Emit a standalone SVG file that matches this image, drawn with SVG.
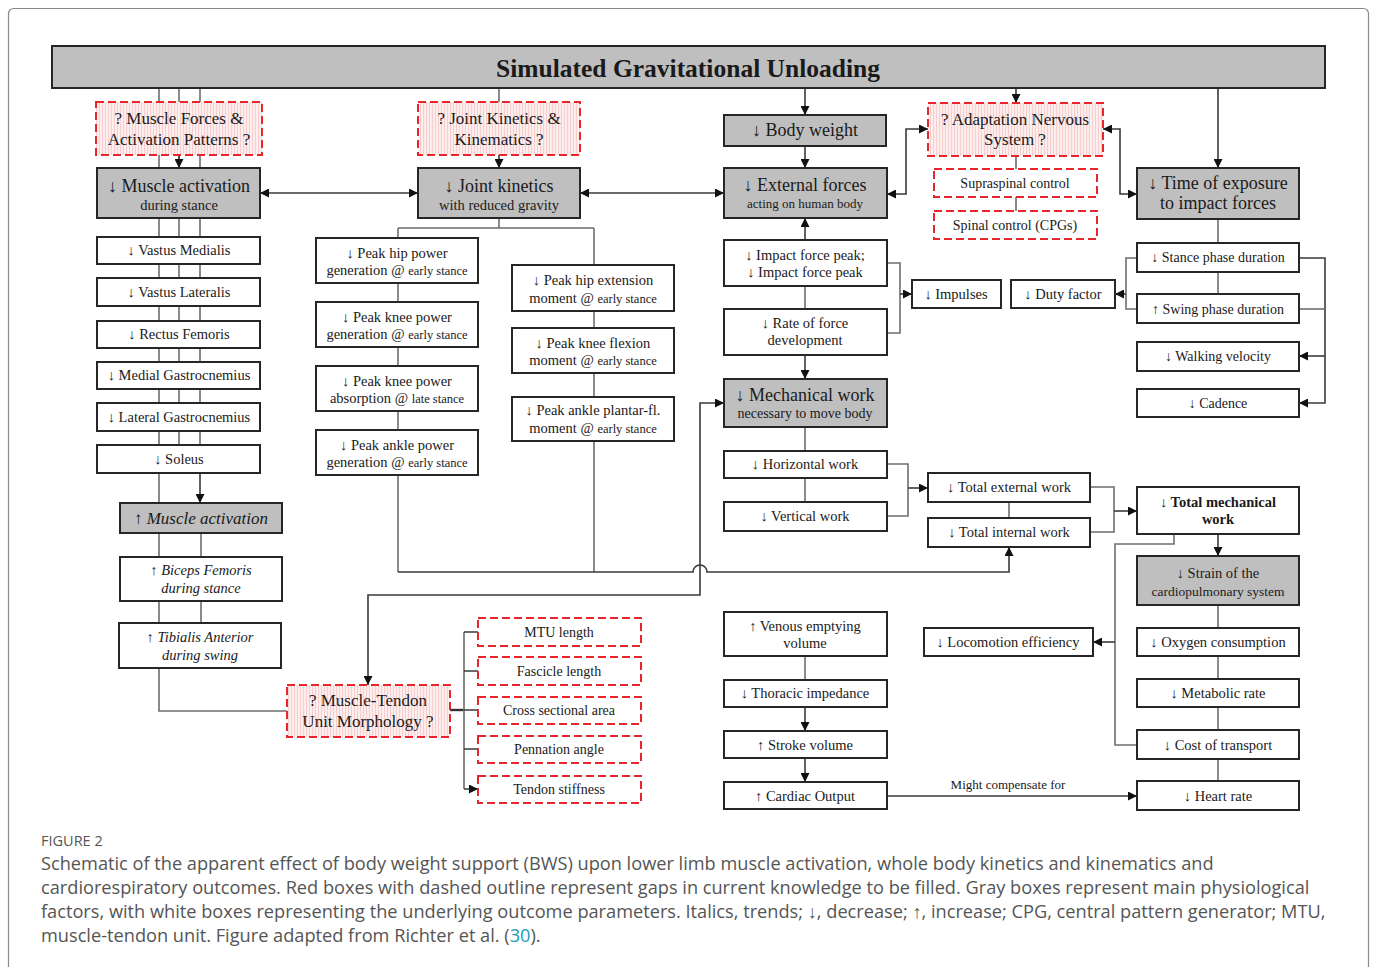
<svg xmlns="http://www.w3.org/2000/svg" width="1375" height="967" viewBox="0 0 1375 967">
<style>
  .frame{fill:#fff;stroke:#8a8a8a;stroke-width:1.2}
  .g{fill:#bfbfbf;stroke:#262626;stroke-width:2}
  .w{fill:#fff;stroke:#262626;stroke-width:2}
  .r{fill:url(#hatch);stroke:#e6262b;stroke-width:2;stroke-dasharray:8 4}
  .rw{fill:#fff;stroke:#e6262b;stroke-width:2;stroke-dasharray:8 4}
  .c{fill:none;stroke:#6e6e6e;stroke-width:1.6}
  .ca{fill:none;stroke:#3a3a3a;stroke-width:1.6;marker-end:url(#ah)}
  .cd{fill:none;stroke:#3a3a3a;stroke-width:1.6;marker-end:url(#ah);marker-start:url(#ah)}
  text{font-family:"Liberation Serif","Times New Roman",serif;fill:#1a1a1a;text-anchor:middle}
  .t15{font-size:14.5px}
  .t17{font-size:17px}
  .t18{font-size:18px}
  .s{font-size:12.5px}
  .it{font-style:italic}
  .b{font-weight:bold}
  .cap{font-family:"Open Sans","Liberation Sans",sans-serif;text-anchor:start;fill:#555;font-size:18.2px}
</style>
<defs>
  <pattern id="hatch" width="3" height="3" patternUnits="userSpaceOnUse">
    <rect width="3" height="3" fill="#fdeeee"/>
    <rect width="1" height="3" fill="#f7cdcd"/>
  </pattern>
  <marker id="ah" viewBox="0 0 10 10" refX="10" refY="5" markerWidth="9" markerHeight="9" markerUnits="userSpaceOnUse" orient="auto-start-reverse">
    <path d="M0,0 L10,5 L0,10 z" fill="#111"/>
  </marker>
</defs>

<rect class="frame" x="8.5" y="8.5" width="1360" height="990" rx="5"/>

<g id="connectors">
  <path class="c" d="M159 88 V711 H287"/>
  <path class="c" d="M179 88 V473"/>
  <path class="c" d="M200 88 V473"/>
  <path class="ca" d="M179 155 V168"/>
  <path class="ca" d="M200 473 V503"/>
  <path class="c" d="M201 533 V623"/>
  <path class="c" d="M499 88 V102"/>
  <path class="ca" d="M499 155 V168"/>
  <path class="cd" d="M260 193 H418"/>
  <path class="cd" d="M580 193 H724"/>
  <path class="c" d="M499 218 V228 M398 228 H594 M398 228 V572 M594 228 V572"/>
  <path class="ca" d="M398 572 H693 A7 7 0 0 1 707 572 H1009 V547"/>
  <path class="cd" d="M368 685 V595 H700 V403 H724"/>
  <path class="ca" d="M805 88 V115"/>
  <path class="ca" d="M805 146 V168"/>
  <path class="ca" d="M805 240 V218"/>
  <path class="c" d="M805 286 V309"/>
  <path class="ca" d="M805 355 V379"/>
  <path class="c" d="M805 427 V451 M805 478 V502"/>
  <path class="c" d="M887 263 H900 V333 H887"/>
  <path class="ca" d="M900 294 H912"/>
  <path class="c" d="M887 464 H908 V516 H887"/>
  <path class="ca" d="M908 488 H928"/>
  <path class="c" d="M1009 502 V518"/>
  <path class="c" d="M1091 487 H1114 V532 H1091"/>
  <path class="ca" d="M1114 511 H1137"/>
  <path class="cd" d="M887 194 H906 V129 H928"/>
  <path class="cd" d="M1103 129 H1120 V194 H1137"/>
  <path class="ca" d="M1016 88 V103"/>
  <path class="c" d="M1016 156 V169 M1016 197 V211"/>
  <path class="ca" d="M1218 88 V168"/>
  <path class="c" d="M1218 219 V243 M1218 272 V294"/>
  <path class="c" d="M1137 258 H1126 V309 H1137"/>
  <path class="ca" d="M1126 294 H1115"/>
  <path class="ca" d="M1299 258 H1325 V403 H1299"/>
  <path class="c" d="M1299 309 H1325"/>
  <path class="ca" d="M1325 356 H1299"/>
  <path class="ca" d="M1218 534 V556"/>
  <path class="c" d="M1218 605 V628 M1218 656 V679 M1218 707 V730 M1218 759 V781"/>
  <path class="c" d="M1174 534 V544 H1115 V745 H1137"/>
  <path class="ca" d="M1115 642 H1093"/>
  <path class="c" d="M805 656 V680"/>
  <path class="ca" d="M805 707 V731"/>
  <path class="ca" d="M805 758 V782"/>
  <path class="ca" d="M887 796 H1137"/>
  <text x="1008" y="789" style="font-size:13px">Might  compensate for</text>
  <path class="c" d="M450 710 H464" style="stroke-width:2.4;stroke:#333"/>
  <path class="c" d="M464 632 V789"/>
  <path class="ca" d="M464 632 H478 M464 671 H478 M464 710 H478 M464 749 H478 M464 789 H478"/>
</g>

<g id="n-title"><rect class="g" x="52" y="46" width="1273" height="42"/><text class="b" x="688" y="77" style="font-size:25.5px">Simulated Gravitational Unloading</text></g>

<g id="n-muscle-forces"><rect class="r" x="96" y="102" width="166" height="53"/><text class="t17" x="179" y="124">? Muscle Forces &amp;</text><text class="t17" x="179" y="145">Activation Patterns ?</text></g>
<g id="n-muscle-act"><rect class="g" x="97" y="168" width="163" height="50"/><text class="t18" x="179" y="192">↓ Muscle activation</text><text style="font-size:14.5px" x="179" y="210">during stance</text></g>
<g id="n-vm"><rect class="w" x="97" y="237" width="163" height="27"/><text class="t15" x="179" y="255">↓ Vastus Medialis</text></g>
<g id="n-vl"><rect class="w" x="97" y="278" width="163" height="28"/><text class="t15" x="179" y="297">↓ Vastus Lateralis</text></g>
<g id="n-rf"><rect class="w" x="97" y="321" width="163" height="27"/><text class="t15" x="179" y="339">↓ Rectus Femoris</text></g>
<g id="n-mg"><rect class="w" x="97" y="362" width="163" height="27"/><text class="t15" x="179" y="380">↓ Medial Gastrocnemius</text></g>
<g id="n-lg"><rect class="w" x="97" y="403" width="163" height="28"/><text class="t15" x="179" y="422">↓ Lateral Gastrocnemius</text></g>
<g id="n-sol"><rect class="w" x="97" y="445" width="163" height="28"/><text class="t15" x="179" y="464">↓ Soleus</text></g>
<g id="n-muscle-up"><rect class="g" x="120" y="503" width="162" height="30"/><text class="t17 it" x="201" y="524">↑ Muscle activation</text></g>
<g id="n-bf"><rect class="w" x="120" y="557" width="162" height="44"/><text class="t15 it" x="201" y="575">↑ Biceps Femoris</text><text class="t15 it" x="201" y="593">during stance</text></g>
<g id="n-ta"><rect class="w" x="119" y="623" width="162" height="45"/><text class="t15 it" x="200" y="642">↑ Tibialis Anterior</text><text class="t15 it" x="200" y="660">during swing</text></g>

<g id="n-joint-q"><rect class="r" x="418" y="102" width="162" height="53"/><text class="t17" x="499" y="124">? Joint Kinetics &amp;</text><text class="t17" x="499" y="145">Kinematics ?</text></g>
<g id="n-joint"><rect class="g" x="418" y="168" width="162" height="50"/><text class="t18" x="499" y="192">↓ Joint kinetics</text><text style="font-size:14.5px" x="499" y="210">with reduced gravity</text></g>
<g id="n-hip-pow"><rect class="w" x="316" y="238" width="162" height="45"/><text class="t15" x="397" y="258">↓ Peak hip power</text><text class="t15" x="397" y="275">generation @ <tspan class="s">early  stance</tspan></text></g>
<g id="n-knee-pow"><rect class="w" x="316" y="302" width="162" height="45"/><text class="t15" x="397" y="322">↓ Peak knee power</text><text class="t15" x="397" y="339">generation @ <tspan class="s">early  stance</tspan></text></g>
<g id="n-knee-abs"><rect class="w" x="316" y="366" width="162" height="45"/><text class="t15" x="397" y="386">↓ Peak knee power</text><text class="t15" x="397" y="403">absorption @ <tspan class="s">late  stance</tspan></text></g>
<g id="n-ankle-pow"><rect class="w" x="316" y="430" width="162" height="45"/><text class="t15" x="397" y="450">↓ Peak ankle power</text><text class="t15" x="397" y="467">generation @ <tspan class="s">early  stance</tspan></text></g>
<g id="n-hip-mom"><rect class="w" x="512" y="265" width="162" height="46"/><text class="t15" x="593" y="285">↓ Peak hip extension</text><text class="t15" x="593" y="303">moment @ <tspan class="s">early  stance</tspan></text></g>
<g id="n-knee-mom"><rect class="w" x="512" y="328" width="162" height="45"/><text class="t15" x="593" y="348">↓ Peak knee flexion</text><text class="t15" x="593" y="365">moment @ <tspan class="s">early  stance</tspan></text></g>
<g id="n-ankle-mom"><rect class="w" x="512" y="397" width="162" height="44"/><text class="t15" x="593" y="415">↓ Peak ankle plantar-fl.</text><text class="t15" x="593" y="433">moment @ <tspan class="s">early  stance</tspan></text></g>

<g id="n-body"><rect class="g" x="724" y="115" width="162" height="31"/><text class="t18" x="805" y="136">↓ Body weight</text></g>
<g id="n-ext"><rect class="g" x="724" y="168" width="163" height="50"/><text class="t18" x="805" y="191">↓ External forces</text><text style="font-size:13px" x="805" y="208">acting on human body</text></g>
<g id="n-impact"><rect class="w" x="724" y="240" width="163" height="46"/><text class="t15" x="805" y="260">↓ Impact  force peak;</text><text class="t15" x="805" y="277">↓ Impact  force peak</text></g>
<g id="n-rate"><rect class="w" x="724" y="309" width="163" height="46"/><text class="t15" x="805" y="328">↓ Rate of force</text><text class="t15" x="805" y="345">development</text></g>
<g id="n-mech"><rect class="g" x="724" y="379" width="163" height="48"/><text class="t18" x="805" y="401">↓ Mechanical  work</text><text style="font-size:14px" x="805" y="418">necessary  to move body</text></g>
<g id="n-horiz"><rect class="w" x="724" y="451" width="163" height="27"/><text class="t15" x="805" y="469">↓ Horizontal work</text></g>
<g id="n-vert"><rect class="w" x="724" y="502" width="163" height="29"/><text class="t15" x="805" y="521">↓ Vertical work</text></g>
<g id="n-venous"><rect class="w" x="724" y="612" width="163" height="44"/><text class="t15" x="805" y="631">↑ Venous emptying</text><text class="t15" x="805" y="648">volume</text></g>
<g id="n-thor"><rect class="w" x="724" y="680" width="163" height="27"/><text class="t15" x="805" y="698">↓ Thoracic impedance</text></g>
<g id="n-stroke"><rect class="w" x="724" y="731" width="163" height="27"/><text class="t15" x="805" y="750">↑ Stroke volume</text></g>
<g id="n-cardiac"><rect class="w" x="724" y="782" width="163" height="27"/><text class="t15" x="805" y="801">↑ Cardiac Output</text></g>

<g id="n-nervous"><rect class="r" x="928" y="103" width="175" height="53"/><text class="t17" x="1015" y="125">? Adaptation Nervous</text><text class="t17" x="1015" y="145">System ?</text></g>
<g id="n-supra"><rect class="rw" x="934" y="169" width="163" height="28"/><text style="font-size:14px" x="1015" y="188">Supraspinal  control</text></g>
<g id="n-spinal"><rect class="rw" x="934" y="211" width="163" height="28"/><text style="font-size:14px" x="1015" y="230">Spinal control (CPGs)</text></g>
<g id="n-impulses"><rect class="w" x="912" y="280" width="89" height="28"/><text class="t15" x="956" y="299">↓ Impulses</text></g>
<g id="n-duty"><rect class="w" x="1011" y="280" width="104" height="28"/><text class="t15" x="1063" y="299">↓ Duty factor</text></g>
<g id="n-totext"><rect class="w" x="928" y="473" width="162" height="29"/><text class="t15" x="1009" y="492">↓ Total external work</text></g>
<g id="n-totint"><rect class="w" x="928" y="518" width="162" height="29"/><text class="t15" x="1009" y="537">↓ Total internal work</text></g>
<g id="n-loco"><rect class="w" x="924" y="628" width="169" height="28"/><text class="t15" x="1008" y="647">↓ Locomotion efficiency</text></g>

<g id="n-time"><rect class="g" x="1137" y="168" width="162" height="51"/><text class="t18" x="1218" y="189">↓ Time of exposure</text><text class="t18" x="1218" y="209">to impact forces</text></g>
<g id="n-stance"><rect class="w" x="1137" y="243" width="162" height="29"/><text style="font-size:14px" x="1218" y="262">↓ Stance phase duration</text></g>
<g id="n-swing"><rect class="w" x="1137" y="294" width="162" height="29"/><text style="font-size:14px" x="1218" y="314">↑ Swing phase duration</text></g>
<g id="n-walk"><rect class="w" x="1137" y="342" width="162" height="29"/><text style="font-size:14px" x="1218" y="361">↓ Walking velocity</text></g>
<g id="n-cad"><rect class="w" x="1137" y="389" width="162" height="28"/><text style="font-size:14px" x="1218" y="408">↓ Cadence</text></g>
<g id="n-totmech"><rect class="w" x="1137" y="487" width="162" height="47"/><text class="t15 b" x="1218" y="507">↓ Total mechanical</text><text class="t15 b" x="1218" y="524">work</text></g>
<g id="n-strain"><rect class="g" x="1137" y="556" width="162" height="49"/><text class="t15" x="1218" y="578">↓ Strain of the</text><text style="font-size:13.5px" x="1218" y="596">cardiopulmonary system</text></g>
<g id="n-oxy"><rect class="w" x="1137" y="628" width="162" height="28"/><text class="t15" x="1218" y="647">↓ Oxygen  consumption</text></g>
<g id="n-meta"><rect class="w" x="1137" y="679" width="162" height="28"/><text class="t15" x="1218" y="698">↓ Metabolic rate</text></g>
<g id="n-cost"><rect class="w" x="1137" y="730" width="162" height="29"/><text class="t15" x="1218" y="750">↓ Cost of transport</text></g>
<g id="n-heart"><rect class="w" x="1137" y="781" width="162" height="29"/><text class="t15" x="1218" y="801">↓ Heart rate</text></g>

<g id="n-mtu"><rect class="r" x="287" y="685" width="163" height="52"/><text class="t17" x="368" y="706">? Muscle-Tendon</text><text class="t17" x="368" y="727">Unit Morphology ?</text></g>
<g id="n-mtulen"><rect class="rw" x="478" y="618" width="163" height="28"/><text style="font-size:14px" x="559" y="637">MTU  length</text></g>
<g id="n-fasc"><rect class="rw" x="478" y="657" width="163" height="28"/><text style="font-size:14px" x="559" y="676">Fascicle length</text></g>
<g id="n-csa"><rect class="rw" x="478" y="697" width="163" height="27"/><text style="font-size:14px" x="559" y="715">Cross sectional area</text></g>
<g id="n-penn"><rect class="rw" x="478" y="736" width="163" height="27"/><text style="font-size:14px" x="559" y="754">Pennation angle</text></g>
<g id="n-tendon"><rect class="rw" x="478" y="776" width="163" height="27"/><text style="font-size:14px" x="559" y="794">Tendon stiffness</text></g>

<g id="caption">
  <text class="cap" x="41" y="846" style="font-size:14.5px">FIGURE 2</text>
  <text class="cap" x="41" y="870">Schematic of the apparent effect of body weight support (BWS) upon lower limb muscle activation, whole body kinetics and kinematics and</text>
  <text class="cap" x="41" y="894">cardiorespiratory outcomes. Red boxes with dashed outline represent gaps in current knowledge to be filled. Gray boxes represent main physiological</text>
  <text class="cap" x="41" y="918">factors, with white boxes representing the underlying outcome parameters. Italics, trends; ↓, decrease; ↑, increase; CPG, central pattern generator; MTU,</text>
  <text class="cap" x="41" y="942">muscle-tendon unit. Figure adapted from Richter et al. (<tspan fill="#1a9bb5">30</tspan>).</text>
</g>
</svg>
